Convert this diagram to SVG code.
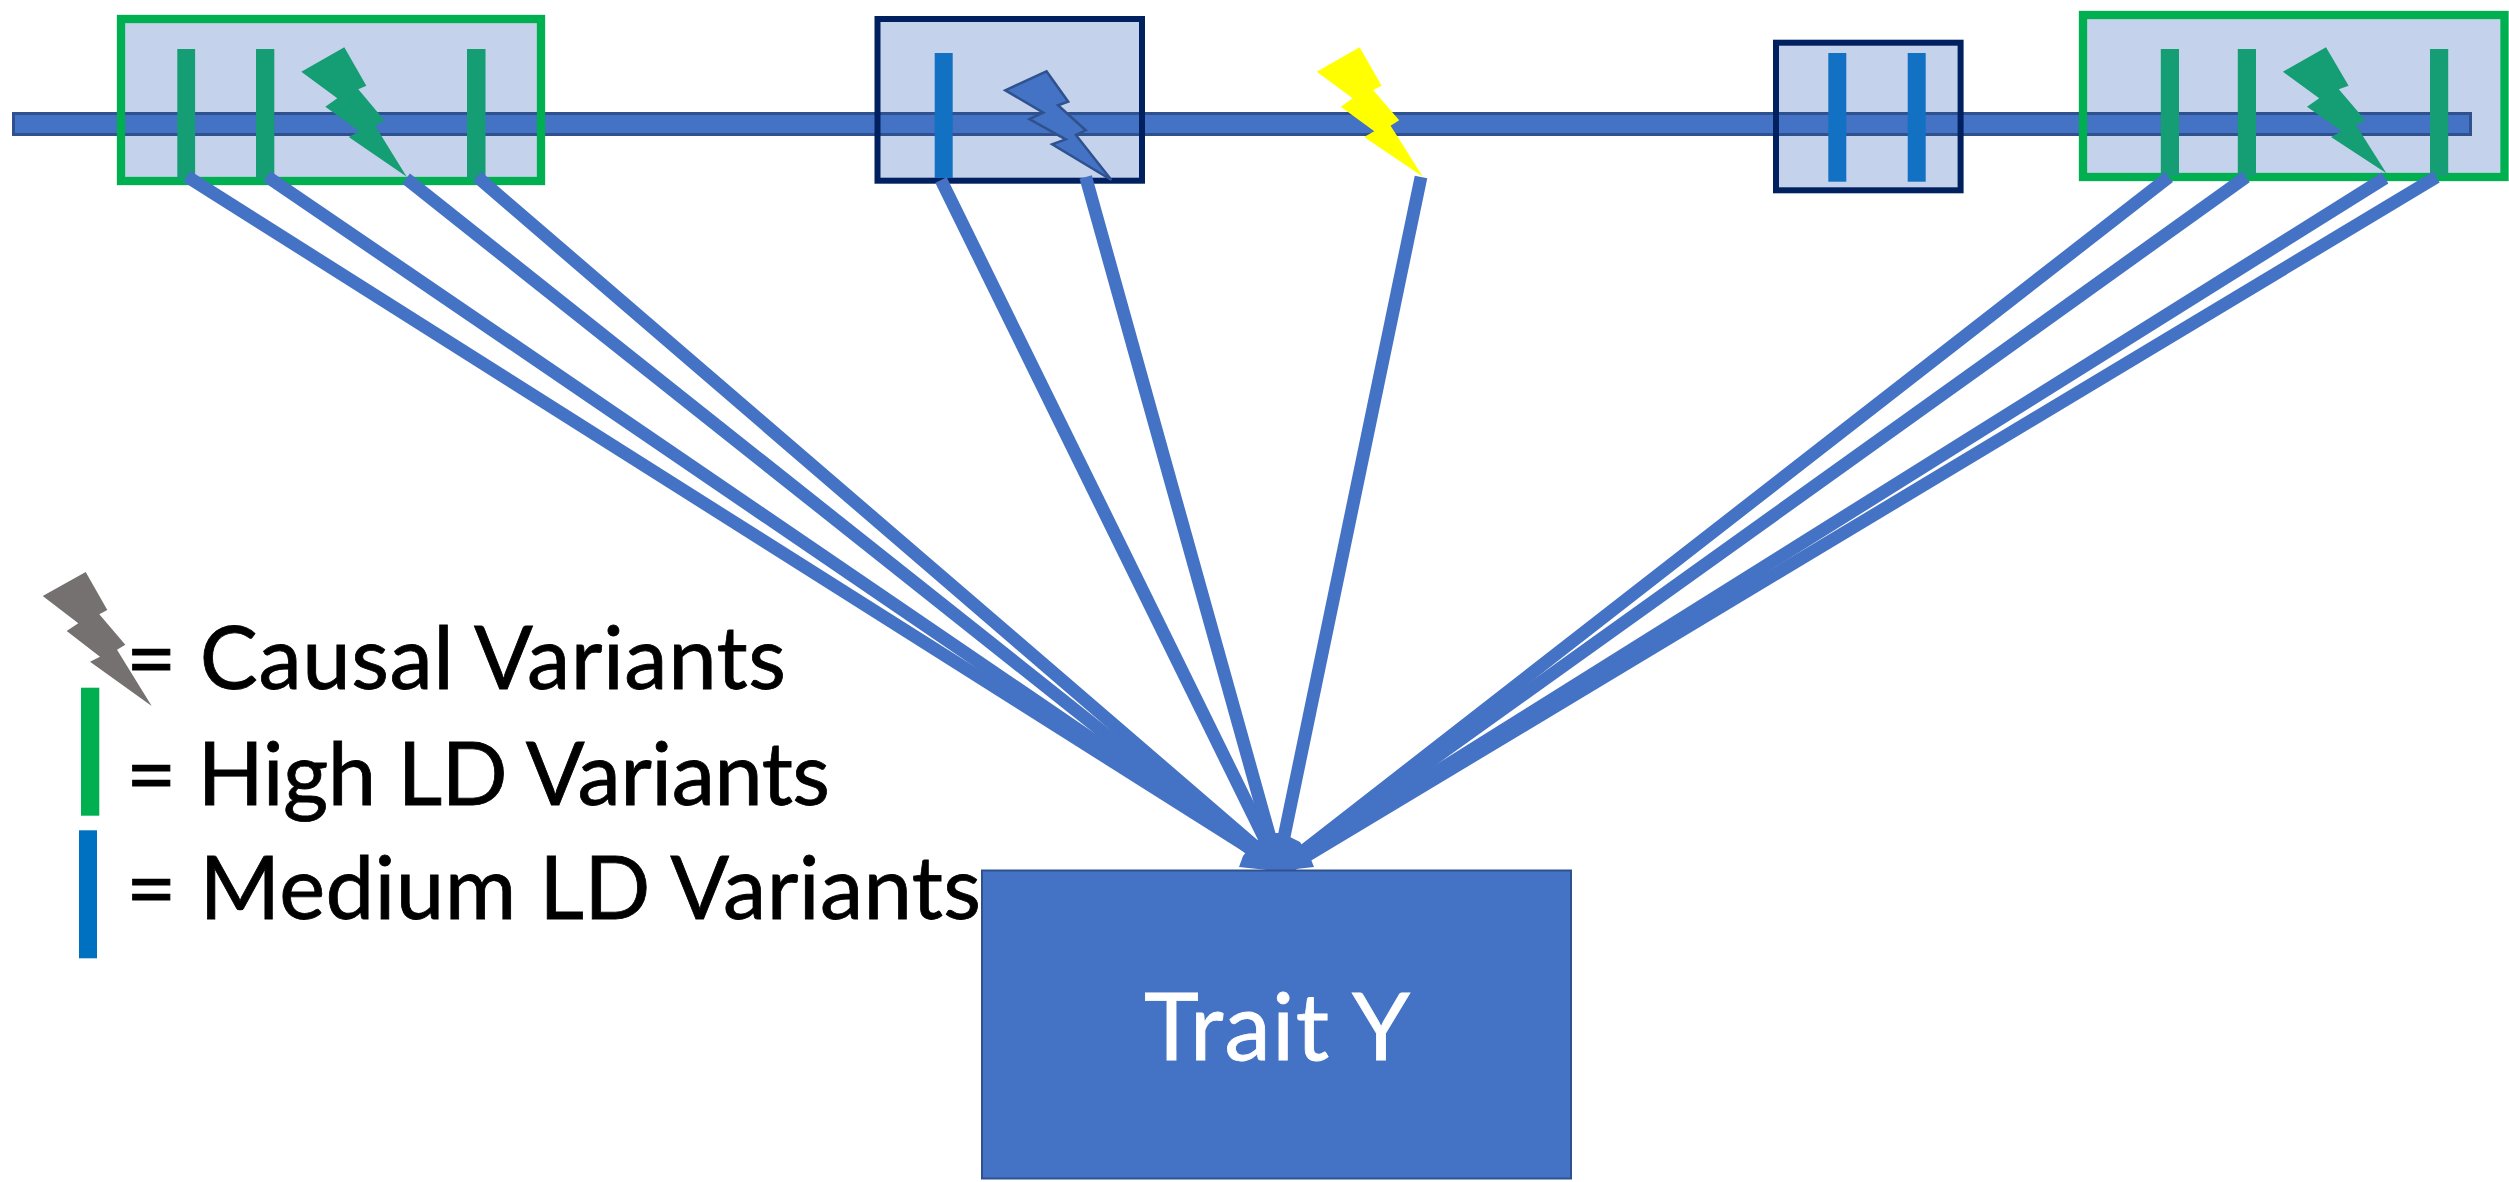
<svg xmlns="http://www.w3.org/2000/svg" width="2509" height="1182" viewBox="0 0 2509 1182">
<style>
.boxfill{fill:#C5D2EB;stroke:none}
.gb{fill:none;stroke:#00B050;stroke-width:8.3}
.nb{fill:none;stroke:#002060;stroke-width:6}
.gt{fill:#159D74}
.bt{fill:#1371C3}
.gbolt{fill:#159D74}
text{font-family:"Lato","Open Sans","Liberation Sans",sans-serif}
.leg{font-size:87px;fill:#000;stroke:#000;stroke-width:.8}
#connectors line{stroke:#4472C4;stroke-width:12.8;fill:none}
</style>
<rect width="2509" height="1182" fill="#fff"/>
<rect class="boxfill" x="121" y="19" width="420" height="162"/>
<rect class="boxfill" x="877.5" y="19" width="264.5" height="161.7"/>
<rect class="boxfill" x="1776" y="42.7" width="184.6" height="147.6"/>
<rect class="boxfill" x="2083" y="15" width="421.5" height="162"/>
<g id="chromosome"><rect x="13.5" y="113.5" width="2457" height="21" fill="#4472C4" stroke="#2F528F" stroke-width="3"/></g>
<g id="region-high-1">
<rect class="gb" x="121" y="19" width="420" height="162"/>
<rect class="gt" x="177.300" y="49" width="17.800" height="130"/>
<rect class="gt" x="256" y="49" width="18.300" height="130"/>
<rect class="gt" x="467" y="49" width="18.500" height="130"/>
<polygon class="gbolt" points="344.300,47.300 366.300,85.700 358.300,89.300 384.300,120.300 375.300,126 406.700,176.700 348.700,137 359.300,131.300 325.300,106.700 337.300,98.300 301.300,71.700"/>
</g>
<g id="region-medium-1">
<rect class="nb" x="877.5" y="19" width="264.5" height="161.700"/>
<rect class="bt" x="934.700" y="53" width="18" height="125"/>
<polygon fill="#4472C4" stroke="#2F528F" stroke-width="2.500" points="1046.500,71.300 1068.200,101.700 1058,105.300 1085.700,130.300 1075.900,135 1111.400,180 1052.200,144.300 1065.700,139.300 1029.400,119 1043.300,112.700 1005.300,90.300"/>
</g>
<g id="yellow-variant">
<polygon fill="#FFFF00" points="1359.600,47.300 1381.600,85.700 1373.100,90 1399.200,120.300 1390.600,125.700 1422.900,176.700 1364.100,137 1374.300,131.300 1340.800,106.700 1352.700,98.300 1316.700,71.700"/>
</g>
<g id="region-medium-2">
<rect class="nb" x="1776" y="42.700" width="184.600" height="147.600"/>
<rect class="bt" x="1828.300" y="53" width="18" height="128.700"/>
<rect class="bt" x="1907.700" y="53" width="18" height="128.700"/>
</g>
<g id="region-high-2">
<rect class="gb" x="2083" y="15" width="421.500" height="162"/>
<rect class="gt" x="2160.800" y="49" width="18.200" height="127"/>
<rect class="gt" x="2237.800" y="49" width="18.200" height="127"/>
<rect class="gt" x="2430" y="49" width="18.200" height="127"/>
<polygon class="gbolt" points="2326,47.300 2348.600,85.700 2338.800,89.300 2365.300,120.300 2356,125 2386.400,173.300 2331,137 2341.700,131.300 2307,106.700 2319.200,98.300 2282.900,71.700"/>
</g>
<g id="connectors">
<line x1="187" y1="176.500" x2="1278" y2="866"/>
<line x1="267" y1="176.500" x2="1278" y2="866"/>
<line x1="406" y1="178.500" x2="1278" y2="871"/>
<line x1="477" y1="176.700" x2="1278" y2="866"/>
<line x1="941" y1="180" x2="1278" y2="866"/>
<line x1="1085.700" y1="177" x2="1278" y2="866"/>
<line x1="1421" y1="177" x2="1278" y2="866"/>
<line x1="2169" y1="177" x2="1284" y2="866"/>
<line x1="2246" y1="177" x2="1284" y2="866"/>
<line x1="2385" y1="178" x2="1278" y2="871"/>
<line x1="2436.400" y1="177" x2="1278" y2="873"/>
<polygon fill="#4472C4" points="1239,867 1243,856 1255,841 1273,833 1278,833 1290,837 1300,842 1310,857 1314,867 1278,871"/>
</g>
<g id="trait-y">
<rect x="982" y="870.500" width="589" height="308" fill="#4472C4" stroke="#2F528F" stroke-width="2"/>
<text x="1144" y="1059.500" font-size="93" fill="#fff" stroke="#fff" stroke-width=".8" textLength="266">Trait Y</text>
</g>
<g id="legend">
<polygon fill="#767171" points="85.700,572 107.300,610 99.300,614.300 125.300,644.700 117,649.700 151.700,706 90,661.700 100,656.700 66.700,631 78.300,623.300 42.700,596"/>
<rect x="81" y="687.700" width="18.300" height="128" fill="#00B050"/>
<rect x="79" y="830.300" width="18" height="128" fill="#0070C0"/>
<text class="leg" x="126" y="689.300" textLength="660">= Causal Variants</text>
<text class="leg" x="126" y="804.500" textLength="704">= High LD Variants</text>
<text class="leg" x="126" y="919" textLength="855">= Medium LD Variants</text>
</g>
</svg>
